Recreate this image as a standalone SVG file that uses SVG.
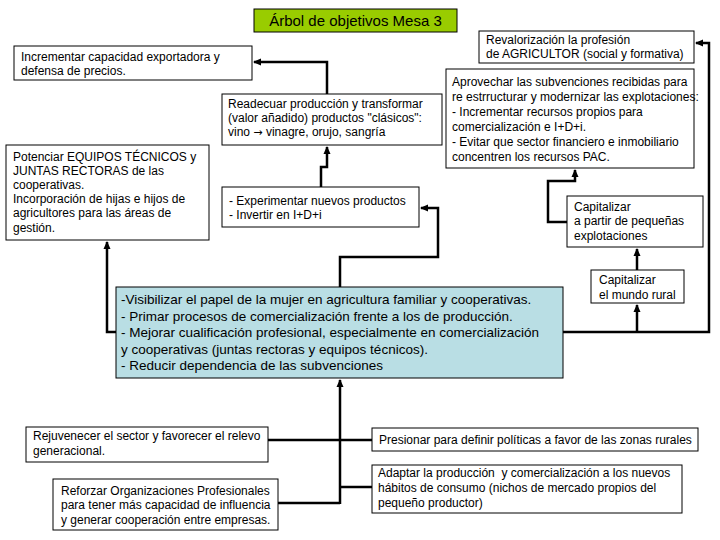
<svg xmlns="http://www.w3.org/2000/svg" width="720" height="540" viewBox="0 0 720 540">
<defs>
<marker id="ah" markerUnits="userSpaceOnUse" markerWidth="8" markerHeight="8" refX="7" refY="4" orient="auto">
<path d="M0,0.5 L8,4 L0,7.5 z" fill="#000"/>
</marker>
<style>
.box{fill:#fff;stroke:#000;stroke-width:1}
.t{font-family:"Liberation Sans",Arial,sans-serif;font-size:12px;fill:#000}
.c{stroke:#000;stroke-width:2.5;fill:none}
.a{marker-end:url(#ah)}
</style>
</defs>
<rect width="720" height="540" fill="#fff"/>
<g id="title">
<rect x="254" y="9" width="203" height="23" fill="#99cc00" stroke="#000"/>
<text x="355.5" y="26" text-anchor="middle" class="t" style="font-size:15px">Árbol de objetivos Mesa 3</text>
</g>
<g id="connectors">
<path class="c a" d="M327,94 V62 H254"/>
<path class="c a" d="M321,187 V167 H327 V147"/>
<path class="c a" d="M340,287 V257 H438 V208 H421"/>
<path class="c a" d="M116,332 H107 V242"/>
<path class="c a" d="M563,332 H709 V43 H696"/>
<path class="c a" d="M637,332 V305"/>
<path class="c a" d="M637,270 V249"/>
<path class="c a" d="M567,222 H548 V181 H575 V170"/>
<path class="c a" d="M340,504 V380"/>
<path class="c" d="M268,440 H372"/>
<path class="c" d="M278,503 H340"/>
<path class="c" d="M340,487 H372"/>
</g>
<g id="incrementar">
<rect class="box" x="14" y="46" width="238" height="34"/>
<text class="t" x="21" y="61">Incrementar capacidad exportadora y</text>
<text class="t" x="21" y="75">defensa de precios.</text>
</g>
<g id="revalorizacion">
<rect class="box" x="479" y="31" width="215" height="32"/>
<text class="t" x="486" y="44">Revalorización la profesión</text>
<text class="t" x="486" y="58">de AGRICULTOR (social y formativa)</text>
</g>
<g id="aprovechar">
<rect class="box" x="446" y="69" width="248" height="99"/>
<text class="t" x="452" y="86">Aprovechar las subvenciones recibidas para</text>
<text class="t" x="452" y="101">re estrructurar y modernizar las explotaciones:</text>
<text class="t" x="452" y="116">- Incrementar recursos propios para</text>
<text class="t" x="452" y="131">comercialización e I+D+i.</text>
<text class="t" x="452" y="146">- Evitar que sector financiero e inmobiliario</text>
<text class="t" x="452" y="161">concentren los recursos PAC.</text>
</g>
<g id="readecuar">
<rect class="box" x="222" y="94" width="220" height="51"/>
<text class="t" x="228" y="108">Readecuar producción y transformar</text>
<text class="t" x="228" y="122">(valor añadido) productos "clásicos":</text>
<text class="t" x="228" y="136">vino <tspan style="font-family:'DejaVu Sans',sans-serif;font-size:11px">→</tspan> vinagre, orujo, sangría</text>
</g>
<g id="potenciar">
<rect class="box" x="6" y="145" width="203" height="95"/>
<text class="t" x="13" y="161">Potenciar EQUIPOS TÉCNICOS y</text>
<text class="t" x="13" y="175">JUNTAS RECTORAS de las</text>
<text class="t" x="13" y="189">cooperativas.</text>
<text class="t" x="13" y="203">Incorporación de hijas e hijos de</text>
<text class="t" x="13" y="217">agricultores para las áreas de</text>
<text class="t" x="13" y="232">gestión.</text>
</g>
<g id="experimentar">
<rect class="box" x="222" y="187" width="197" height="40"/>
<text class="t" x="229" y="205">- Experimentar nuevos productos</text>
<text class="t" x="229" y="219">- Invertir en I+D+i</text>
</g>
<g id="capitalizar-partir">
<rect class="box" x="567" y="196" width="136" height="51"/>
<text class="t" x="574" y="211">Capitalizar</text>
<text class="t" x="574" y="225">a partir de pequeñas</text>
<text class="t" x="574" y="240">explotaciones</text>
</g>
<g id="capitalizar-rural">
<rect class="box" x="591" y="270" width="93" height="33"/>
<text class="t" x="599" y="284">Capitalizar</text>
<text class="t" x="599" y="299">el mundo rural</text>
</g>
<g id="central">
<rect x="116" y="287" width="447" height="91" fill="#b9dee4" stroke="#000"/>
<text class="t" x="121" y="304" style="font-size:13.5px">-Visibilizar el papel de la mujer en agricultura familiar y cooperativas.</text>
<text class="t" x="121" y="321" style="font-size:13.5px">- Primar procesos de comercialización frente a los de producción.</text>
<text class="t" x="121" y="337" style="font-size:13.5px">- Mejorar cualificación profesional, especialmente en comercialización</text>
<text class="t" x="121" y="354" style="font-size:13.5px">y cooperativas (juntas rectoras y equipos técnicos).</text>
<text class="t" x="121" y="370" style="font-size:13.5px">- Reducir dependencia de las subvenciones</text>
</g>
<g id="rejuvenecer">
<rect class="box" x="26" y="427" width="242" height="35"/>
<text class="t" x="33" y="440">Rejuvenecer el sector y favorecer el relevo</text>
<text class="t" x="33" y="455">generacional.</text>
</g>
<g id="reforzar">
<rect class="box" x="53" y="479" width="225" height="51"/>
<text class="t" x="61" y="495">Reforzar Organizaciones Profesionales</text>
<text class="t" x="61" y="509">para tener más capacidad de influencia</text>
<text class="t" x="61" y="524">y generar cooperación entre empresas.</text>
</g>
<g id="presionar">
<rect class="box" x="372" y="428" width="326" height="23"/>
<text class="t" x="379" y="444">Presionar para definir políticas a favor de las zonas rurales</text>
</g>
<g id="adaptar">
<rect class="box" x="372" y="465" width="310" height="48"/>
<text class="t" x="378" y="477" xml:space="preserve">Adaptar la producción  y comercialización a los nuevos</text>
<text class="t" x="378" y="492">hábitos de consumo (nichos de mercado propios del</text>
<text class="t" x="378" y="507">pequeño productor)</text>
</g>
</svg>
